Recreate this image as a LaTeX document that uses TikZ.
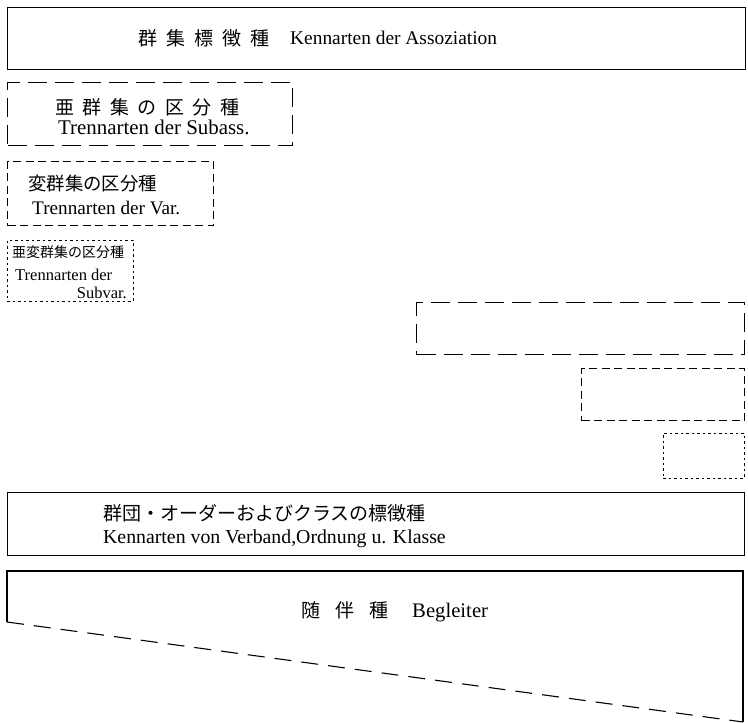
\documentclass[tikz,border=0pt]{standalone}
\usepackage{fontspec}
\setmainfont{Liberation Serif}
\newfontfamily\cjk{Noto Sans CJK JP}
\newcommand\cjkfs[1]{\cjk\fontsize{#1}{#1}\selectfont}
\newcommand\lafs[1]{\fontsize{#1}{#1}\selectfont}
\begin{document}
\begin{tikzpicture}[x=1pt,y=-1pt,
  boxline/.style={draw, line width=1.1pt, inner sep=0pt, anchor=north west},
  longdash/.style={dash pattern=on 19pt off 8pt},
  meddash/.style={dash pattern=on 8pt off 4.5pt},
  shortdash/.style={dash pattern=on 2.5pt off 3pt, line width=0.9pt},
  txt/.style={anchor=base west, inner sep=0pt},
  txte/.style={anchor=base east, inner sep=0pt}]
\useasboundingbox (0,0) rectangle (748,723);

% top box
\node[boxline, minimum width=738pt, minimum height=62pt] (kenn) at (7,7) {};
\node[txt, font=\cjkfs{19}] (kennj) at (138,45) {群\hspace{9pt}集\hspace{9pt}標\hspace{9pt}徴\hspace{9pt}種};
\node[txt, font=\lafs{19.4}] (kennl) at (290,44) {Kennarten der Assoziation};

% subass
\node[boxline, longdash, minimum width=285pt, minimum height=63pt] (subass) at (7,82) {};
\node[txt, font=\cjkfs{19}] (subassj) at (55,114) {亜\hspace{8.5pt}群\hspace{8.5pt}集\hspace{8.5pt}の\hspace{8.5pt}区\hspace{8.5pt}分\hspace{8.5pt}種};
\node[txt, font=\lafs{20.9}] (subassl) at (58,134.5) {Trennarten der Subass.};

% var
\node[boxline, meddash, minimum width=206pt, minimum height=64pt] (var) at (7,161) {};
\node[txt, font=\cjkfs{18.4}] (varj) at (28,190) {変群集の区分種};
\node[txt, font=\lafs{19.2}] (varl) at (32,214.5) {Trennarten der Var.};

% subvar
\node[boxline, shortdash, minimum width=126pt, minimum height=61pt] (subvar) at (7,240) {};
\node[txt, font=\cjkfs{14}] (subvarj) at (12,257) {亜変群集の区分種};
\node[txt, font=\lafs{16.5}] (subvarl) at (15,280.5) {Trennarten der};
\node[txte, font=\lafs{16.5}] (subvarm) at (127,298.5) {Subvar.};

% right empty boxes
\node[boxline, longdash, minimum width=328pt, minimum height=52pt] (rsubass) at (416,302) {};
\node[boxline, meddash, minimum width=163pt, minimum height=52pt] (rvar) at (581,368) {};
\node[boxline, shortdash, minimum width=81pt, minimum height=45pt] (rsubvar) at (663,433) {};

% verband box
\node[boxline, minimum width=737pt, minimum height=63pt] (verb) at (7,492) {};
\node[txt, font=\cjkfs{19}] (verbj) at (103,520) {群団・オーダーおよびクラスの標徴種};
\node[txt, font=\lafs{19.8}] (verbl) at (103,543.5) {Kennarten von Verband,Ordnung u. Klasse};

% begleiter
\coordinate (bA) at (7,622);
\coordinate (bB) at (7,571);
\coordinate (bC) at (743,571);
\coordinate (bD) at (743,722);
\draw[line width=1.1pt] (bA) -- (bB) -- (bC) -- (bD);
\draw[line width=1.1pt, dash pattern=on 17pt off 10pt] (bA) -- (bD);
\node[txt, font=\cjkfs{19}] (begj) at (301,617) {随\hspace{15pt}伴\hspace{15pt}種};
\node[txt, font=\lafs{20.7}] (begl) at (412,617) {Begleiter};
\end{tikzpicture}
\end{document}
